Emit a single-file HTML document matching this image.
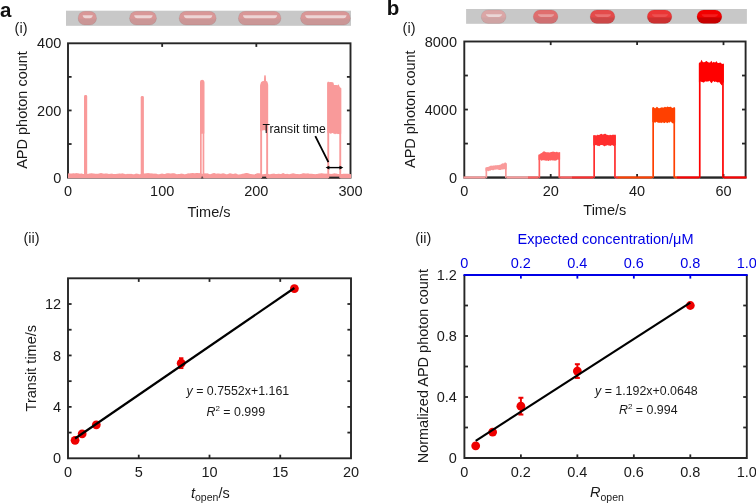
<!DOCTYPE html>
<html><head><meta charset="utf-8"><style>
html,body{margin:0;padding:0;background:#fff;width:756px;height:504px;overflow:hidden}
svg{display:block;will-change:transform}
text{font-family:"Liberation Sans", sans-serif}
</style></head><body>
<svg width="756" height="504" viewBox="0 0 756 504">
<text x="0.00" y="17.00" font-size="20.5" text-anchor="start" fill="#111" font-weight="bold"  >a</text>
<text x="386.80" y="15.20" font-size="20.5" text-anchor="start" fill="#111" font-weight="bold"  >b</text>
<text x="14.60" y="32.80" font-size="14.5" text-anchor="start" fill="#1a1a1a" font-weight="normal"  >(i)</text>
<text x="402.60" y="32.80" font-size="14.5" text-anchor="start" fill="#1a1a1a" font-weight="normal"  >(i)</text>
<text x="23.50" y="242.90" font-size="14.5" text-anchor="start" fill="#1a1a1a" font-weight="normal"  >(ii)</text>
<text x="415.20" y="242.90" font-size="14.5" text-anchor="start" fill="#1a1a1a" font-weight="normal"  >(ii)</text>
<defs><linearGradient id="hl" x1="0" y1="0" x2="0" y2="1"><stop offset="0" stop-color="#fff" stop-opacity="0.95"/><stop offset="1" stop-color="#fff" stop-opacity="0.2"/></linearGradient></defs>
<rect x="66" y="10.7" width="285" height="15.1" fill="#c8c8c8"/>
<linearGradient id="pg1" x1="0" y1="0" x2="0" y2="1"><stop offset="0" stop-color="#d99797"/><stop offset="0.5" stop-color="#d99797"/><stop offset="0.62" stop-color="#ca9696"/><stop offset="1" stop-color="#ca9696"/></linearGradient>
<rect x="78.00" y="11.30" width="18.60" height="13.70" rx="6.85" fill="url(#pg1)" stroke="#000" stroke-opacity="0.08" stroke-width="0.8"/>
<path d="M82.60,15.20 L92.80,15.20 Q92.20,18.20 89.80,18.20 L85.60,18.20 Q83.20,18.20 82.60,15.20 Z" fill="#eedcdc" fill-opacity="0.9"/>
<linearGradient id="pg2" x1="0" y1="0" x2="0" y2="1"><stop offset="0" stop-color="#d99797"/><stop offset="0.5" stop-color="#d99797"/><stop offset="0.62" stop-color="#ca9696"/><stop offset="1" stop-color="#ca9696"/></linearGradient>
<rect x="129.50" y="11.30" width="27.00" height="13.70" rx="6.85" fill="url(#pg2)" stroke="#000" stroke-opacity="0.08" stroke-width="0.8"/>
<path d="M134.10,15.20 L152.70,15.20 Q152.10,18.20 149.70,18.20 L137.10,18.20 Q134.70,18.20 134.10,15.20 Z" fill="#eedcdc" fill-opacity="0.9"/>
<linearGradient id="pg3" x1="0" y1="0" x2="0" y2="1"><stop offset="0" stop-color="#d99797"/><stop offset="0.5" stop-color="#d99797"/><stop offset="0.62" stop-color="#ca9696"/><stop offset="1" stop-color="#ca9696"/></linearGradient>
<rect x="179.10" y="11.30" width="37.10" height="13.70" rx="6.85" fill="url(#pg3)" stroke="#000" stroke-opacity="0.08" stroke-width="0.8"/>
<path d="M183.70,15.20 L212.40,15.20 Q211.80,18.20 209.40,18.20 L186.70,18.20 Q184.30,18.20 183.70,15.20 Z" fill="#eedcdc" fill-opacity="0.9"/>
<linearGradient id="pg4" x1="0" y1="0" x2="0" y2="1"><stop offset="0" stop-color="#d99797"/><stop offset="0.5" stop-color="#d99797"/><stop offset="0.62" stop-color="#ca9696"/><stop offset="1" stop-color="#ca9696"/></linearGradient>
<rect x="238.30" y="11.30" width="42.70" height="13.70" rx="6.85" fill="url(#pg4)" stroke="#000" stroke-opacity="0.08" stroke-width="0.8"/>
<path d="M242.90,15.20 L277.20,15.20 Q276.60,18.20 274.20,18.20 L245.90,18.20 Q243.50,18.20 242.90,15.20 Z" fill="#eedcdc" fill-opacity="0.9"/>
<linearGradient id="pg5" x1="0" y1="0" x2="0" y2="1"><stop offset="0" stop-color="#d99797"/><stop offset="0.5" stop-color="#d99797"/><stop offset="0.62" stop-color="#ca9696"/><stop offset="1" stop-color="#ca9696"/></linearGradient>
<rect x="300.50" y="11.30" width="49.90" height="13.70" rx="6.85" fill="url(#pg5)" stroke="#000" stroke-opacity="0.08" stroke-width="0.8"/>
<path d="M305.10,15.20 L346.60,15.20 Q346.00,18.20 343.60,18.20 L308.10,18.20 Q305.70,18.20 305.10,15.20 Z" fill="#eedcdc" fill-opacity="0.9"/>
<rect x="466.1" y="9" width="280.8" height="14.8" fill="#c8c8c8"/>
<linearGradient id="pg6" x1="0" y1="0" x2="0" y2="1"><stop offset="0" stop-color="#dba6a6"/><stop offset="0.5" stop-color="#dba6a6"/><stop offset="0.62" stop-color="#cfa4a4"/><stop offset="1" stop-color="#cfa4a4"/></linearGradient>
<rect x="481.20" y="9.90" width="24.80" height="13.50" rx="6.75" fill="url(#pg6)" stroke="#000" stroke-opacity="0.08" stroke-width="0.8"/>
<path d="M485.80,14.30 L502.20,14.30 Q501.60,17.00 499.20,17.00 L488.80,17.00 Q486.40,17.00 485.80,14.30 Z" fill="#ecdede" fill-opacity="0.85"/>
<linearGradient id="pg7" x1="0" y1="0" x2="0" y2="1"><stop offset="0" stop-color="#e06e6e"/><stop offset="0.5" stop-color="#e06e6e"/><stop offset="0.62" stop-color="#cf7072"/><stop offset="1" stop-color="#cf7072"/></linearGradient>
<rect x="533.20" y="9.90" width="24.80" height="13.50" rx="6.75" fill="url(#pg7)" stroke="#000" stroke-opacity="0.08" stroke-width="0.8"/>
<path d="M537.80,14.30 L554.20,14.30 Q553.60,17.00 551.20,17.00 L540.80,17.00 Q538.40,17.00 537.80,14.30 Z" fill="#e8a8a8" fill-opacity="0.85"/>
<linearGradient id="pg8" x1="0" y1="0" x2="0" y2="1"><stop offset="0" stop-color="#e44b4b"/><stop offset="0.5" stop-color="#e44b4b"/><stop offset="0.62" stop-color="#cc4848"/><stop offset="1" stop-color="#cc4848"/></linearGradient>
<rect x="590.10" y="9.90" width="24.80" height="13.50" rx="6.75" fill="url(#pg8)" stroke="#000" stroke-opacity="0.08" stroke-width="0.8"/>
<path d="M594.70,14.30 L611.10,14.30 Q610.50,17.00 608.10,17.00 L597.70,17.00 Q595.30,17.00 594.70,14.30 Z" fill="#eb7a7a" fill-opacity="0.8"/>
<linearGradient id="pg9" x1="0" y1="0" x2="0" y2="1"><stop offset="0" stop-color="#eb3636"/><stop offset="0.5" stop-color="#eb3636"/><stop offset="0.62" stop-color="#cc3030"/><stop offset="1" stop-color="#cc3030"/></linearGradient>
<rect x="647.20" y="9.90" width="24.70" height="13.50" rx="6.75" fill="url(#pg9)" stroke="#000" stroke-opacity="0.08" stroke-width="0.8"/>
<path d="M651.80,14.30 L668.10,14.30 Q667.50,17.00 665.10,17.00 L654.80,17.00 Q652.40,17.00 651.80,14.30 Z" fill="#ee5a5a" fill-opacity="0.75"/>
<linearGradient id="pg10" x1="0" y1="0" x2="0" y2="1"><stop offset="0" stop-color="#f20000"/><stop offset="0.5" stop-color="#f20000"/><stop offset="0.62" stop-color="#c80000"/><stop offset="1" stop-color="#c80000"/></linearGradient>
<rect x="696.90" y="9.90" width="25.00" height="13.50" rx="6.75" fill="url(#pg10)" stroke="#000" stroke-opacity="0.08" stroke-width="0.8"/>
<path d="M701.50,14.30 L718.10,14.30 Q717.50,17.00 715.10,17.00 L704.50,17.00 Q702.10,17.00 701.50,14.30 Z" fill="#f52a2a" fill-opacity="0.7"/>
<rect x="68.0" y="43.3" width="282.5" height="134.3" fill="none" stroke="#262626" stroke-width="1.9"/>
<line x1="162.17" y1="43.30" x2="162.17" y2="46.90" stroke="#262626" stroke-width="1.8" stroke-linecap="butt"/>
<line x1="162.17" y1="177.60" x2="162.17" y2="174.00" stroke="#262626" stroke-width="1.8" stroke-linecap="butt"/>
<line x1="256.33" y1="43.30" x2="256.33" y2="46.90" stroke="#262626" stroke-width="1.8" stroke-linecap="butt"/>
<line x1="256.33" y1="177.60" x2="256.33" y2="174.00" stroke="#262626" stroke-width="1.8" stroke-linecap="butt"/>
<line x1="68.00" y1="144.02" x2="71.60" y2="144.02" stroke="#262626" stroke-width="1.8" stroke-linecap="butt"/>
<line x1="350.50" y1="144.02" x2="346.90" y2="144.02" stroke="#262626" stroke-width="1.8" stroke-linecap="butt"/>
<line x1="68.00" y1="110.45" x2="71.60" y2="110.45" stroke="#262626" stroke-width="1.8" stroke-linecap="butt"/>
<line x1="350.50" y1="110.45" x2="346.90" y2="110.45" stroke="#262626" stroke-width="1.8" stroke-linecap="butt"/>
<line x1="68.00" y1="76.88" x2="71.60" y2="76.88" stroke="#262626" stroke-width="1.8" stroke-linecap="butt"/>
<line x1="350.50" y1="76.88" x2="346.90" y2="76.88" stroke="#262626" stroke-width="1.8" stroke-linecap="butt"/>
<text x="68.00" y="196.00" font-size="14.5" text-anchor="middle" fill="#1a1a1a" font-weight="normal"  >0</text>
<text x="162.17" y="196.00" font-size="14.5" text-anchor="middle" fill="#1a1a1a" font-weight="normal"  >100</text>
<text x="256.33" y="196.00" font-size="14.5" text-anchor="middle" fill="#1a1a1a" font-weight="normal"  >200</text>
<text x="350.50" y="196.00" font-size="14.5" text-anchor="middle" fill="#1a1a1a" font-weight="normal"  >300</text>
<text x="61.30" y="182.70" font-size="14.5" text-anchor="end" fill="#1a1a1a" font-weight="normal"  >0</text>
<text x="61.30" y="115.55" font-size="14.5" text-anchor="end" fill="#1a1a1a" font-weight="normal"  >200</text>
<text x="61.30" y="48.40" font-size="14.5" text-anchor="end" fill="#1a1a1a" font-weight="normal"  >400</text>
<text x="209.00" y="217.30" font-size="14.5" text-anchor="middle" fill="#1a1a1a" font-weight="normal"  >Time/s</text>
<text transform="translate(27.0,110) rotate(-90)" font-size="14.5" text-anchor="middle" fill="#1a1a1a">APD photon count</text>
<polygon points="68.00,173.48 69.00,173.32 70.00,173.56 71.00,173.38 72.00,173.38 73.00,173.36 74.00,173.16 75.00,173.39 76.00,173.12 77.00,173.16 78.00,173.15 79.00,173.61 80.00,173.63 81.00,173.50 82.00,173.38 83.01,173.88 84.01,174.09 85.01,173.95 86.01,173.97 87.01,173.65 88.01,173.93 89.01,173.52 90.01,173.58 91.01,173.13 92.01,173.14 93.01,173.55 94.01,173.58 95.01,173.75 96.01,173.64 97.01,173.76 98.01,173.74 99.01,173.39 100.01,173.20 101.01,173.00 102.01,173.37 103.01,173.59 104.01,173.65 105.01,173.60 106.01,173.61 107.01,173.60 108.01,173.73 109.01,173.88 110.01,173.84 111.02,173.71 112.02,173.61 113.02,173.98 114.02,174.08 115.02,173.94 116.02,174.00 117.02,173.63 118.02,173.71 119.02,173.58 120.02,173.60 121.02,173.64 122.02,173.21 123.02,173.52 124.02,173.68 125.02,174.00 126.02,174.13 127.02,173.86 128.02,173.93 129.02,173.76 130.02,173.92 131.02,173.78 132.02,173.93 133.02,174.14 134.02,174.16 135.02,174.05 136.02,173.52 137.02,173.66 138.02,173.65 139.03,174.21 140.03,174.28 141.03,174.06 142.03,173.70 143.03,173.60 144.03,173.45 145.03,173.49 146.03,173.19 147.03,173.25 148.03,173.01 149.03,173.37 150.03,173.37 151.03,173.49 152.03,173.26 153.03,173.71 154.03,173.61 155.03,173.64 156.03,173.45 157.03,173.93 158.03,174.15 159.03,174.34 160.03,173.98 161.03,173.73 162.03,173.43 163.03,173.79 164.03,174.12 165.03,174.00 166.03,173.57 167.03,173.14 168.04,173.18 169.04,173.37 170.04,173.58 171.04,173.60 172.04,173.31 173.04,173.21 174.04,173.28 175.04,173.61 176.04,173.93 177.04,174.13 178.04,174.10 179.04,173.89 180.04,173.89 181.04,173.61 182.04,173.78 183.04,173.84 184.04,174.33 185.04,174.27 186.04,174.04 187.04,173.75 188.04,173.34 189.04,173.48 190.04,173.28 191.04,173.26 192.04,173.00 193.04,173.06 194.04,173.23 195.04,173.13 196.05,173.04 197.05,172.92 198.05,172.95 199.05,173.17 200.05,173.09 201.05,173.56 202.05,173.71 203.05,173.78 204.05,173.41 205.05,173.25 206.05,173.38 207.05,173.30 208.05,173.60 209.05,173.98 210.05,174.18 211.05,173.97 212.05,173.42 213.05,173.20 214.05,173.12 215.05,173.23 216.05,173.66 217.05,173.55 218.05,173.41 219.05,173.48 220.05,173.70 221.05,173.78 222.05,173.53 223.05,173.23 224.06,173.46 225.06,173.72 226.06,174.22 227.06,174.32 228.06,173.89 229.06,173.59 230.06,173.28 231.06,173.58 232.06,173.68 233.06,174.05 234.06,173.78 235.06,173.60 236.06,173.62 237.06,174.01 238.06,174.39 239.06,174.39 240.06,174.29 241.06,174.22 242.06,173.87 243.06,173.69 244.06,173.46 245.06,173.34 246.06,173.05 247.06,173.00 248.06,173.14 249.06,173.54 250.06,173.94 251.06,174.06 252.07,174.20 253.07,174.22 254.07,174.53 255.07,174.18 256.07,173.72 257.07,173.29 258.07,173.19 259.07,173.18 260.07,173.42 261.07,173.84 262.07,174.22 263.07,174.13 264.07,173.98 265.07,173.96 266.07,173.72 267.07,173.73 268.07,173.79 269.07,174.21 270.07,174.27 271.07,174.01 272.07,173.64 273.07,173.67 274.07,173.58 275.07,173.95 276.07,174.06 277.07,174.10 278.07,173.86 279.07,173.85 280.07,174.04 281.08,173.90 282.08,173.41 283.08,173.07 284.08,173.51 285.08,173.92 286.08,173.91 287.08,173.87 288.08,173.97 289.08,174.28 290.08,173.99 291.08,173.73 292.08,173.42 293.08,173.22 294.08,173.47 295.08,173.78 296.08,174.09 297.08,174.07 298.08,173.94 299.08,174.14 300.08,174.08 301.08,173.95 302.08,173.57 303.08,173.25 304.08,173.27 305.08,173.47 306.08,173.45 307.08,173.56 308.08,173.29 309.09,173.68 310.09,173.64 311.09,173.83 312.09,173.64 313.09,173.97 314.09,173.94 315.09,174.15 316.09,173.90 317.09,173.97 318.09,173.73 319.09,173.44 320.09,173.39 321.09,173.19 322.09,173.18 323.09,173.39 324.09,173.39 325.09,173.67 326.09,173.62 327.09,173.85 328.09,173.76 329.09,173.64 330.09,173.64 331.09,173.91 332.09,173.67 333.09,173.67 334.09,173.35 335.09,173.45 336.09,173.58 337.10,173.73 338.10,173.91 339.10,173.90 340.10,174.14 341.10,174.07 342.10,173.98 343.10,173.74 344.10,173.78 345.10,173.83 346.10,173.79 347.10,173.81 348.10,173.68 349.10,173.97 350.10,174.07 351.10,174.31 351.1,178.3 68.0,178.3" fill="#f99a9a"/>
<rect x="84.00" y="95.00" width="3.20" height="82.00" rx="1.4" fill="#f99a9a"/>
<rect x="140.70" y="96.00" width="3.20" height="81.00" rx="1.4" fill="#f99a9a"/>
<line x1="200.85" y1="177.40" x2="203.45" y2="177.40" stroke="#262626" stroke-width="1.9" stroke-linecap="butt"/>
<rect x="200.00" y="82.10" width="1.7" height="95.70" fill="#f99a9a"/>
<rect x="202.60" y="82.10" width="1.7" height="95.70" fill="#f99a9a"/>
<polygon points="200.00,81.50 200.60,80.20 202.20,79.80 203.70,80.20 204.30,81.50 204.30,133.60 200.00,134.00" fill="#f99a9a"/>
<line x1="261.15" y1="177.60" x2="267.15" y2="177.60" stroke="#262626" stroke-width="1.9" stroke-linecap="butt"/>
<rect x="260.20" y="85.30" width="1.9" height="92.70" fill="#f99a9a"/>
<rect x="266.20" y="84.80" width="1.9" height="93.20" fill="#f99a9a"/>
<polygon points="260.20,84.70 261.00,82.30 262.20,81.20 263.90,81.00 264.20,75.80 265.00,75.10 265.80,75.80 266.10,81.00 267.30,81.60 268.10,84.20 268.10,130.41 267.57,130.46 267.05,130.67 266.52,130.76 265.99,131.17 265.47,130.62 264.94,130.27 264.41,129.88 263.89,130.18 263.36,130.14 262.83,130.22 262.31,130.55 261.78,131.18 261.25,131.53 260.73,131.15 260.20,131.19" fill="#f99a9a"/>
<line x1="328.25" y1="177.60" x2="340.25" y2="177.60" stroke="#262626" stroke-width="1.9" stroke-linecap="butt"/>
<rect x="327.30" y="82.97" width="1.9" height="95.03" fill="#f99a9a"/>
<rect x="339.30" y="88.48" width="1.9" height="89.52" fill="#f99a9a"/>
<polygon points="327.30,82.37 327.81,81.79 328.33,81.70 328.84,81.85 329.36,81.94 329.87,82.14 330.39,82.11 330.90,82.02 331.42,82.00 331.93,82.13 332.45,82.13 332.96,82.14 333.48,82.83 333.99,84.88 334.51,84.99 335.02,84.95 335.54,84.99 336.05,84.96 336.57,85.06 337.08,85.25 337.60,85.21 338.11,84.49 338.63,84.44 339.14,85.48 339.66,86.87 340.17,87.64 340.69,87.51 341.20,87.88 341.20,133.69 340.69,133.68 340.17,133.98 339.66,134.30 339.14,134.32 338.63,133.89 338.11,134.11 337.60,133.84 337.08,134.14 336.57,133.45 336.05,134.03 335.54,133.81 335.02,134.49 334.51,133.84 333.99,133.63 333.48,133.38 332.96,133.33 332.45,133.01 331.93,132.99 331.42,133.38 330.90,134.04 330.39,133.54 329.87,133.24 329.36,133.12 328.84,133.72 328.33,133.82 327.81,133.21 327.30,132.63" fill="#f99a9a"/>
<text x="262.50" y="132.60" font-size="12.2" text-anchor="start" fill="#111" font-weight="normal"  >Transit time</text>
<line x1="315.30" y1="136.20" x2="328.40" y2="162.20" stroke="#000" stroke-width="1.8" stroke-linecap="butt"/>
<line x1="327.00" y1="167.60" x2="342.00" y2="167.60" stroke="#000" stroke-width="1.4" stroke-linecap="butt"/>
<path d="M325.6,167.6 L329.4,165.7 L329.4,169.5 Z" fill="#000"/>
<path d="M343.3,167.6 L339.5,165.7 L339.5,169.5 Z" fill="#000"/>
<rect x="464.3" y="41.5" width="281.3" height="136.1" fill="none" stroke="#262626" stroke-width="1.9"/>
<line x1="550.70" y1="41.50" x2="550.70" y2="45.10" stroke="#262626" stroke-width="1.8" stroke-linecap="butt"/>
<line x1="550.70" y1="177.60" x2="550.70" y2="174.00" stroke="#262626" stroke-width="1.8" stroke-linecap="butt"/>
<line x1="637.10" y1="41.50" x2="637.10" y2="45.10" stroke="#262626" stroke-width="1.8" stroke-linecap="butt"/>
<line x1="637.10" y1="177.60" x2="637.10" y2="174.00" stroke="#262626" stroke-width="1.8" stroke-linecap="butt"/>
<line x1="723.50" y1="41.50" x2="723.50" y2="45.10" stroke="#262626" stroke-width="1.8" stroke-linecap="butt"/>
<line x1="723.50" y1="177.60" x2="723.50" y2="174.00" stroke="#262626" stroke-width="1.8" stroke-linecap="butt"/>
<line x1="464.30" y1="143.57" x2="467.90" y2="143.57" stroke="#262626" stroke-width="1.8" stroke-linecap="butt"/>
<line x1="745.60" y1="143.57" x2="742.00" y2="143.57" stroke="#262626" stroke-width="1.8" stroke-linecap="butt"/>
<line x1="464.30" y1="109.55" x2="467.90" y2="109.55" stroke="#262626" stroke-width="1.8" stroke-linecap="butt"/>
<line x1="745.60" y1="109.55" x2="742.00" y2="109.55" stroke="#262626" stroke-width="1.8" stroke-linecap="butt"/>
<line x1="464.30" y1="75.52" x2="467.90" y2="75.52" stroke="#262626" stroke-width="1.8" stroke-linecap="butt"/>
<line x1="745.60" y1="75.52" x2="742.00" y2="75.52" stroke="#262626" stroke-width="1.8" stroke-linecap="butt"/>
<text x="464.30" y="195.80" font-size="14.5" text-anchor="middle" fill="#1a1a1a" font-weight="normal"  >0</text>
<text x="550.70" y="195.80" font-size="14.5" text-anchor="middle" fill="#1a1a1a" font-weight="normal"  >20</text>
<text x="637.10" y="195.80" font-size="14.5" text-anchor="middle" fill="#1a1a1a" font-weight="normal"  >40</text>
<text x="723.50" y="195.80" font-size="14.5" text-anchor="middle" fill="#1a1a1a" font-weight="normal"  >60</text>
<text x="457.00" y="182.70" font-size="14.5" text-anchor="end" fill="#1a1a1a" font-weight="normal"  >0</text>
<text x="457.00" y="114.65" font-size="14.5" text-anchor="end" fill="#1a1a1a" font-weight="normal"  >4000</text>
<text x="457.00" y="46.60" font-size="14.5" text-anchor="end" fill="#1a1a1a" font-weight="normal"  >8000</text>
<text x="604.80" y="215.30" font-size="14.5" text-anchor="middle" fill="#1a1a1a" font-weight="normal"  >Time/s</text>
<text transform="translate(414.8,109.2) rotate(-90)" font-size="14.5" text-anchor="middle" fill="#1a1a1a">APD photon count</text>
<rect x="463.40" y="176.4" width="22.10" height="2.1" fill="#f99a9a"/>
<rect x="506.70" y="176.4" width="21.30" height="2.1" fill="#f99a9a"/>
<rect x="528.00" y="176.4" width="10.50" height="2.1" fill="#ff5f5f"/>
<rect x="560.10" y="176.4" width="11.90" height="2.1" fill="#ff5f5f"/>
<rect x="572.00" y="176.4" width="21.30" height="2.1" fill="#ff2d2d"/>
<rect x="615.80" y="176.4" width="2.20" height="2.1" fill="#ff2d2d"/>
<rect x="618.00" y="176.4" width="34.30" height="2.1" fill="#ff4000"/>
<rect x="675.10" y="176.4" width="1.90" height="2.1" fill="#ff4000"/>
<rect x="677.00" y="176.4" width="21.90" height="2.1" fill="#ff0000"/>
<rect x="723.80" y="176.4" width="22.70" height="2.1" fill="#ff0000"/>
<line x1="486.35" y1="177.50" x2="505.85" y2="177.50" stroke="#262626" stroke-width="1.9" stroke-linecap="butt"/>
<rect x="485.50" y="168.10" width="1.7" height="9.80" fill="#f99a9a"/>
<rect x="505.00" y="163.74" width="1.7" height="14.16" fill="#f99a9a"/>
<polygon points="485.50,167.50 486.00,167.31 486.51,167.14 487.01,167.01 487.52,167.09 488.02,166.93 488.53,166.86 489.03,166.47 489.54,166.34 490.04,165.99 490.55,165.86 491.05,165.57 491.56,165.72 492.06,165.71 492.57,165.70 493.07,165.52 493.58,165.61 494.08,165.49 494.59,165.56 495.09,165.28 495.60,165.36 496.10,165.29 496.60,165.20 497.11,165.13 497.61,164.99 498.12,165.17 498.62,165.02 499.13,165.01 499.63,164.82 500.14,164.84 500.64,164.51 501.15,164.21 501.65,163.81 502.16,163.55 502.66,163.28 503.17,163.42 503.67,163.32 504.18,163.14 504.68,162.53 505.19,162.44 505.69,162.62 506.20,163.12 506.70,163.14 506.70,169.36 506.20,169.46 505.69,169.57 505.19,169.30 504.68,169.22 504.18,169.21 503.67,169.32 503.17,169.56 502.66,169.39 502.16,169.57 501.65,169.57 501.15,169.83 500.64,170.03 500.14,170.01 499.63,169.96 499.13,169.97 498.62,169.75 498.12,169.68 497.61,169.42 497.11,169.37 496.60,169.48 496.10,169.56 495.60,169.74 495.09,169.57 494.59,169.84 494.08,169.85 493.58,170.16 493.07,170.19 492.57,170.33 492.06,170.10 491.56,170.08 491.05,170.08 490.55,170.65 490.04,170.63 489.54,170.80 489.03,170.85 488.53,171.27 488.02,171.16 487.52,170.92 487.01,170.53 486.51,170.68 486.00,170.64 485.50,170.73" fill="#f99a9a"/>
<line x1="539.35" y1="177.50" x2="559.25" y2="177.50" stroke="#262626" stroke-width="1.9" stroke-linecap="butt"/>
<rect x="538.50" y="155.14" width="1.7" height="22.76" fill="#ff5f5f"/>
<rect x="558.40" y="152.71" width="1.7" height="25.19" fill="#ff5f5f"/>
<polygon points="538.50,154.54 539.00,154.49 539.50,154.25 540.01,154.02 540.51,153.52 541.01,153.18 541.51,152.95 542.02,152.83 542.52,152.34 543.02,151.86 543.52,151.43 544.03,151.34 544.53,151.43 545.03,151.83 545.53,151.98 546.03,152.29 546.54,152.25 547.04,152.37 547.54,152.37 548.04,152.13 548.55,152.24 549.05,152.42 549.55,152.57 550.05,152.36 550.56,152.24 551.06,151.94 551.56,151.96 552.06,151.69 552.57,151.68 553.07,151.44 553.57,151.66 554.07,151.71 554.57,151.93 555.08,152.04 555.58,152.17 556.08,151.99 556.58,151.74 557.09,151.84 557.59,152.16 558.09,152.35 558.59,152.46 559.10,152.26 559.60,152.17 560.10,152.11 560.10,159.57 559.60,159.66 559.10,159.90 558.59,159.75 558.09,159.52 557.59,159.54 557.09,160.11 556.58,160.26 556.08,160.42 555.58,160.44 555.08,160.63 554.57,160.73 554.07,160.30 553.57,160.60 553.07,160.45 552.57,160.48 552.06,160.28 551.56,160.12 551.06,160.63 550.56,160.44 550.05,160.50 549.55,160.23 549.05,160.71 548.55,161.03 548.04,161.01 547.54,160.42 547.04,160.47 546.54,160.77 546.03,160.86 545.53,160.81 545.03,160.28 544.53,160.42 544.03,160.14 543.52,160.36 543.02,160.24 542.52,160.34 542.02,160.43 541.51,160.64 541.01,160.38 540.51,159.98 540.01,159.56 539.50,159.72 539.00,159.85 538.50,160.27" fill="#ff5f5f"/>
<line x1="594.15" y1="177.50" x2="614.95" y2="177.50" stroke="#262626" stroke-width="1.9" stroke-linecap="butt"/>
<rect x="593.30" y="135.59" width="1.7" height="42.31" fill="#ff2d2d"/>
<rect x="614.10" y="135.43" width="1.7" height="42.47" fill="#ff2d2d"/>
<polygon points="593.30,134.99 593.80,135.21 594.30,135.17 594.80,135.19 595.30,135.25 595.80,135.13 596.30,135.56 596.80,135.13 597.30,134.88 597.80,134.53 598.30,134.91 598.80,135.00 599.30,134.93 599.80,134.54 600.30,134.31 600.80,134.07 601.30,133.83 601.80,134.11 602.30,134.20 602.80,134.65 603.30,134.25 603.80,134.19 604.30,133.89 604.80,133.80 605.30,133.81 605.80,134.03 606.30,134.50 606.80,134.87 607.30,134.79 607.80,134.92 608.30,135.11 608.80,135.17 609.30,135.17 609.80,134.75 610.30,134.90 610.80,134.74 611.30,135.16 611.80,135.11 612.30,135.01 612.80,134.59 613.30,134.76 613.80,134.66 614.30,134.92 614.80,134.57 615.30,134.67 615.80,134.83 615.80,144.97 615.30,145.10 614.80,145.70 614.30,146.38 613.80,146.09 613.30,145.78 612.80,145.28 612.30,145.17 611.80,145.05 611.30,145.51 610.80,145.78 610.30,146.00 609.80,145.48 609.30,145.74 608.80,145.59 608.30,145.55 607.80,145.11 607.30,145.20 606.80,145.54 606.30,145.61 605.80,145.65 605.30,145.82 604.80,146.18 604.30,146.30 603.80,145.95 603.30,145.47 602.80,145.11 602.30,145.16 601.80,145.04 601.30,145.09 600.80,144.93 600.30,145.18 599.80,145.74 599.30,146.28 598.80,146.10 598.30,145.73 597.80,145.71 597.30,145.69 596.80,145.44 596.30,144.89 595.80,145.01 595.30,145.28 594.80,145.36 594.30,145.54 593.80,145.31 593.30,145.78" fill="#ff2d2d"/>
<line x1="653.15" y1="177.50" x2="674.25" y2="177.50" stroke="#262626" stroke-width="1.9" stroke-linecap="butt"/>
<rect x="652.30" y="108.23" width="1.7" height="69.67" fill="#ff4000"/>
<rect x="673.40" y="108.30" width="1.7" height="69.60" fill="#ff4000"/>
<polygon points="652.30,107.63 652.81,107.00 653.31,106.96 653.82,107.23 654.33,107.84 654.83,108.20 655.34,108.25 655.85,107.85 656.35,107.34 656.86,106.77 657.37,106.98 657.87,107.42 658.38,108.00 658.89,108.17 659.39,108.16 659.90,108.05 660.41,107.84 660.91,107.74 661.42,107.19 661.93,107.39 662.43,107.13 662.94,107.73 663.45,107.60 663.95,107.62 664.46,107.02 664.97,106.70 665.47,106.91 665.98,107.29 666.49,107.16 666.99,106.72 667.50,106.56 668.01,106.87 668.51,107.12 669.02,106.92 669.53,106.96 670.03,106.71 670.54,106.78 671.05,106.71 671.55,107.41 672.06,107.68 672.57,108.00 673.07,107.68 673.58,107.40 674.09,106.97 674.59,107.34 675.10,107.70 675.10,122.36 674.59,122.37 674.09,123.07 673.58,123.43 673.07,123.41 672.57,123.34 672.06,123.08 671.55,122.40 671.05,121.71 670.54,121.52 670.03,122.30 669.53,122.46 669.02,122.69 668.51,122.01 668.01,122.65 667.50,122.89 666.99,123.14 666.49,122.55 665.98,122.16 665.47,122.25 664.97,122.88 664.46,122.99 663.95,123.22 663.45,122.59 662.94,122.52 662.43,122.56 661.93,122.61 661.42,123.22 660.91,122.68 660.41,122.83 659.90,122.62 659.39,123.10 658.89,122.82 658.38,122.76 657.87,122.42 657.37,122.52 656.86,121.96 656.35,121.78 655.85,122.26 655.34,122.77 654.83,122.78 654.33,122.34 653.82,122.33 653.31,122.51 652.81,122.16 652.30,121.84" fill="#ff4000"/>
<line x1="699.75" y1="177.50" x2="722.95" y2="177.50" stroke="#262626" stroke-width="1.9" stroke-linecap="butt"/>
<rect x="698.90" y="63.57" width="1.7" height="114.33" fill="#ff0000"/>
<rect x="722.10" y="64.14" width="1.7" height="113.76" fill="#ff0000"/>
<polygon points="698.90,62.97 699.41,62.55 699.92,62.57 700.42,62.18 700.93,61.07 701.44,59.73 701.95,60.47 702.46,61.59 702.97,62.21 703.47,62.08 703.98,62.41 704.49,61.92 705.00,62.02 705.51,61.43 706.01,61.29 706.52,60.89 707.03,61.34 707.54,61.98 708.05,62.00 708.56,62.59 709.06,62.48 709.57,62.53 710.08,62.48 710.59,61.77 711.10,61.19 711.60,60.84 712.11,62.20 712.62,62.66 713.13,62.16 713.64,61.69 714.14,62.18 714.65,62.27 715.16,62.50 715.67,62.02 716.18,61.59 716.69,61.34 717.19,62.29 717.70,63.02 718.21,63.04 718.72,62.93 719.23,62.78 719.73,62.81 720.24,62.41 720.75,62.71 721.26,63.20 721.77,63.76 722.28,64.05 722.78,63.70 723.29,63.64 723.80,63.54 723.80,82.29 723.29,82.61 722.78,83.59 722.28,84.99 721.77,85.32 721.26,85.01 720.75,83.91 720.24,83.67 719.73,82.56 719.23,82.23 718.72,81.94 718.21,82.55 717.70,82.58 717.19,82.37 716.69,82.07 716.18,81.66 715.67,81.51 715.16,81.80 714.65,82.07 714.14,81.75 713.64,81.17 713.13,80.96 712.62,81.83 712.11,82.61 711.60,83.29 711.10,82.63 710.59,82.30 710.08,81.38 709.57,81.11 709.06,80.80 708.56,81.48 708.05,81.59 707.54,81.41 707.03,81.42 706.52,81.57 706.01,81.78 705.51,81.33 705.00,81.55 704.49,81.97 703.98,82.43 703.47,82.54 702.97,82.55 702.46,81.92 701.95,82.09 701.44,81.78 700.93,82.00 700.42,81.33 699.92,81.22 699.41,81.70 698.90,82.37" fill="#ff0000"/>
<rect x="68.0" y="278.3" width="283.0" height="180.0" fill="none" stroke="#262626" stroke-width="1.9"/>
<line x1="138.75" y1="278.30" x2="138.75" y2="281.90" stroke="#262626" stroke-width="1.8" stroke-linecap="butt"/>
<line x1="138.75" y1="458.30" x2="138.75" y2="454.70" stroke="#262626" stroke-width="1.8" stroke-linecap="butt"/>
<line x1="209.50" y1="278.30" x2="209.50" y2="281.90" stroke="#262626" stroke-width="1.8" stroke-linecap="butt"/>
<line x1="209.50" y1="458.30" x2="209.50" y2="454.70" stroke="#262626" stroke-width="1.8" stroke-linecap="butt"/>
<line x1="280.25" y1="278.30" x2="280.25" y2="281.90" stroke="#262626" stroke-width="1.8" stroke-linecap="butt"/>
<line x1="280.25" y1="458.30" x2="280.25" y2="454.70" stroke="#262626" stroke-width="1.8" stroke-linecap="butt"/>
<line x1="68.00" y1="432.59" x2="71.60" y2="432.59" stroke="#262626" stroke-width="1.8" stroke-linecap="butt"/>
<line x1="351.00" y1="432.59" x2="347.40" y2="432.59" stroke="#262626" stroke-width="1.8" stroke-linecap="butt"/>
<line x1="68.00" y1="406.87" x2="71.60" y2="406.87" stroke="#262626" stroke-width="1.8" stroke-linecap="butt"/>
<line x1="351.00" y1="406.87" x2="347.40" y2="406.87" stroke="#262626" stroke-width="1.8" stroke-linecap="butt"/>
<line x1="68.00" y1="381.16" x2="71.60" y2="381.16" stroke="#262626" stroke-width="1.8" stroke-linecap="butt"/>
<line x1="351.00" y1="381.16" x2="347.40" y2="381.16" stroke="#262626" stroke-width="1.8" stroke-linecap="butt"/>
<line x1="68.00" y1="355.44" x2="71.60" y2="355.44" stroke="#262626" stroke-width="1.8" stroke-linecap="butt"/>
<line x1="351.00" y1="355.44" x2="347.40" y2="355.44" stroke="#262626" stroke-width="1.8" stroke-linecap="butt"/>
<line x1="68.00" y1="329.73" x2="71.60" y2="329.73" stroke="#262626" stroke-width="1.8" stroke-linecap="butt"/>
<line x1="351.00" y1="329.73" x2="347.40" y2="329.73" stroke="#262626" stroke-width="1.8" stroke-linecap="butt"/>
<line x1="68.00" y1="304.01" x2="71.60" y2="304.01" stroke="#262626" stroke-width="1.8" stroke-linecap="butt"/>
<line x1="351.00" y1="304.01" x2="347.40" y2="304.01" stroke="#262626" stroke-width="1.8" stroke-linecap="butt"/>
<text x="68.00" y="476.50" font-size="14.5" text-anchor="middle" fill="#1a1a1a" font-weight="normal"  >0</text>
<text x="138.75" y="476.50" font-size="14.5" text-anchor="middle" fill="#1a1a1a" font-weight="normal"  >5</text>
<text x="209.50" y="476.50" font-size="14.5" text-anchor="middle" fill="#1a1a1a" font-weight="normal"  >10</text>
<text x="280.25" y="476.50" font-size="14.5" text-anchor="middle" fill="#1a1a1a" font-weight="normal"  >15</text>
<text x="351.00" y="476.50" font-size="14.5" text-anchor="middle" fill="#1a1a1a" font-weight="normal"  >20</text>
<text x="61.20" y="463.40" font-size="14.5" text-anchor="end" fill="#1a1a1a" font-weight="normal"  >0</text>
<text x="61.20" y="411.97" font-size="14.5" text-anchor="end" fill="#1a1a1a" font-weight="normal"  >4</text>
<text x="61.20" y="360.54" font-size="14.5" text-anchor="end" fill="#1a1a1a" font-weight="normal"  >8</text>
<text x="61.20" y="309.11" font-size="14.5" text-anchor="end" fill="#1a1a1a" font-weight="normal"  >12</text>
<text transform="translate(35.8,368.2) rotate(-90)" font-size="14.5" text-anchor="middle" fill="#1a1a1a">Transit time/s</text>
<text x="191" y="497.6" font-size="14.5" fill="#1a1a1a"><tspan font-style="italic">t</tspan><tspan font-size="10.5" dy="3.3">open</tspan><tspan dy="-3.3">/s</tspan></text>
<circle cx="75.08" cy="440.30" r="4.4" fill="#ee0000"/>
<circle cx="82.15" cy="433.87" r="4.4" fill="#ee0000"/>
<circle cx="96.30" cy="424.87" r="4.4" fill="#ee0000"/>
<line x1="181.20" y1="358.27" x2="181.20" y2="368.04" stroke="#ee0000" stroke-width="2.0" stroke-linecap="butt"/>
<line x1="179.00" y1="358.27" x2="183.40" y2="358.27" stroke="#ee0000" stroke-width="2.0" stroke-linecap="butt"/>
<line x1="179.00" y1="368.04" x2="183.40" y2="368.04" stroke="#ee0000" stroke-width="2.0" stroke-linecap="butt"/>
<circle cx="181.20" cy="363.16" r="4.4" fill="#ee0000"/>
<circle cx="294.40" cy="288.59" r="4.4" fill="#ee0000"/>
<line x1="75.08" y1="438.52" x2="294.40" y2="288.02" stroke="#000" stroke-width="2.2" stroke-linecap="butt"/>
<text x="186.5" y="394.9" font-size="12.4" fill="#1a1a1a"><tspan font-style="italic">y</tspan> = 0.7552x+1.161</text>
<text x="206.5" y="415.9" font-size="12.4" fill="#1a1a1a"><tspan font-style="italic">R</tspan><tspan font-size="8" dy="-5.2">2</tspan><tspan dy="5.2"> = 0.999</tspan></text>
<polyline points="746.8,275.0 746.8,458.0 464.4,458.0 464.4,275.0" fill="none" stroke="#262626" stroke-width="1.9"/>
<line x1="463.50" y1="275.00" x2="747.70" y2="275.00" stroke="#0000e6" stroke-width="2.0" stroke-linecap="butt"/>
<line x1="520.88" y1="275.00" x2="520.88" y2="278.60" stroke="#0000e6" stroke-width="1.8" stroke-linecap="butt"/>
<line x1="520.88" y1="458.00" x2="520.88" y2="454.40" stroke="#262626" stroke-width="1.8" stroke-linecap="butt"/>
<line x1="577.36" y1="275.00" x2="577.36" y2="278.60" stroke="#0000e6" stroke-width="1.8" stroke-linecap="butt"/>
<line x1="577.36" y1="458.00" x2="577.36" y2="454.40" stroke="#262626" stroke-width="1.8" stroke-linecap="butt"/>
<line x1="633.84" y1="275.00" x2="633.84" y2="278.60" stroke="#0000e6" stroke-width="1.8" stroke-linecap="butt"/>
<line x1="633.84" y1="458.00" x2="633.84" y2="454.40" stroke="#262626" stroke-width="1.8" stroke-linecap="butt"/>
<line x1="690.32" y1="275.00" x2="690.32" y2="278.60" stroke="#0000e6" stroke-width="1.8" stroke-linecap="butt"/>
<line x1="690.32" y1="458.00" x2="690.32" y2="454.40" stroke="#262626" stroke-width="1.8" stroke-linecap="butt"/>
<line x1="464.40" y1="427.50" x2="468.00" y2="427.50" stroke="#262626" stroke-width="1.8" stroke-linecap="butt"/>
<line x1="746.80" y1="427.50" x2="743.20" y2="427.50" stroke="#262626" stroke-width="1.8" stroke-linecap="butt"/>
<line x1="464.40" y1="397.00" x2="468.00" y2="397.00" stroke="#262626" stroke-width="1.8" stroke-linecap="butt"/>
<line x1="746.80" y1="397.00" x2="743.20" y2="397.00" stroke="#262626" stroke-width="1.8" stroke-linecap="butt"/>
<line x1="464.40" y1="366.50" x2="468.00" y2="366.50" stroke="#262626" stroke-width="1.8" stroke-linecap="butt"/>
<line x1="746.80" y1="366.50" x2="743.20" y2="366.50" stroke="#262626" stroke-width="1.8" stroke-linecap="butt"/>
<line x1="464.40" y1="336.00" x2="468.00" y2="336.00" stroke="#262626" stroke-width="1.8" stroke-linecap="butt"/>
<line x1="746.80" y1="336.00" x2="743.20" y2="336.00" stroke="#262626" stroke-width="1.8" stroke-linecap="butt"/>
<line x1="464.40" y1="305.50" x2="468.00" y2="305.50" stroke="#262626" stroke-width="1.8" stroke-linecap="butt"/>
<line x1="746.80" y1="305.50" x2="743.20" y2="305.50" stroke="#262626" stroke-width="1.8" stroke-linecap="butt"/>
<text x="464.40" y="476.50" font-size="14.5" text-anchor="middle" fill="#1a1a1a" font-weight="normal"  >0</text>
<text x="464.40" y="267.60" font-size="14.5" text-anchor="middle" fill="#0000e6" font-weight="normal"  >0</text>
<text x="520.88" y="476.50" font-size="14.5" text-anchor="middle" fill="#1a1a1a" font-weight="normal"  >0.2</text>
<text x="520.88" y="267.60" font-size="14.5" text-anchor="middle" fill="#0000e6" font-weight="normal"  >0.2</text>
<text x="577.36" y="476.50" font-size="14.5" text-anchor="middle" fill="#1a1a1a" font-weight="normal"  >0.4</text>
<text x="577.36" y="267.60" font-size="14.5" text-anchor="middle" fill="#0000e6" font-weight="normal"  >0.4</text>
<text x="633.84" y="476.50" font-size="14.5" text-anchor="middle" fill="#1a1a1a" font-weight="normal"  >0.6</text>
<text x="633.84" y="267.60" font-size="14.5" text-anchor="middle" fill="#0000e6" font-weight="normal"  >0.6</text>
<text x="690.32" y="476.50" font-size="14.5" text-anchor="middle" fill="#1a1a1a" font-weight="normal"  >0.8</text>
<text x="690.32" y="267.60" font-size="14.5" text-anchor="middle" fill="#0000e6" font-weight="normal"  >0.8</text>
<text x="746.80" y="476.50" font-size="14.5" text-anchor="middle" fill="#1a1a1a" font-weight="normal"  >1.0</text>
<text x="746.80" y="267.60" font-size="14.5" text-anchor="middle" fill="#0000e6" font-weight="normal"  >1.0</text>
<text x="456.80" y="463.10" font-size="14.5" text-anchor="end" fill="#1a1a1a" font-weight="normal"  >0</text>
<text x="456.80" y="402.10" font-size="14.5" text-anchor="end" fill="#1a1a1a" font-weight="normal"  >0.4</text>
<text x="456.80" y="341.10" font-size="14.5" text-anchor="end" fill="#1a1a1a" font-weight="normal"  >0.8</text>
<text x="456.80" y="280.10" font-size="14.5" text-anchor="end" fill="#1a1a1a" font-weight="normal"  >1.2</text>
<text x="605.50" y="243.60" font-size="14.5" text-anchor="middle" fill="#0000e6" font-weight="normal"  >Expected concentration/μM</text>
<text transform="translate(427.8,366.2) rotate(-90)" font-size="14.5" text-anchor="middle" fill="#1a1a1a">Normalized APD photon count</text>
<text x="590" y="497" font-size="14.5" fill="#1a1a1a"><tspan font-style="italic">R</tspan><tspan font-size="10.5" dy="3.5">open</tspan></text>
<circle cx="475.70" cy="445.80" r="4.4" fill="#ee0000"/>
<circle cx="492.64" cy="432.07" r="4.4" fill="#ee0000"/>
<line x1="520.88" y1="397.76" x2="520.88" y2="414.54" stroke="#ee0000" stroke-width="2.0" stroke-linecap="butt"/>
<line x1="518.38" y1="397.76" x2="523.38" y2="397.76" stroke="#ee0000" stroke-width="2.0" stroke-linecap="butt"/>
<line x1="518.38" y1="414.54" x2="523.38" y2="414.54" stroke="#ee0000" stroke-width="2.0" stroke-linecap="butt"/>
<circle cx="520.88" cy="406.15" r="4.4" fill="#ee0000"/>
<line x1="577.36" y1="364.21" x2="577.36" y2="377.94" stroke="#ee0000" stroke-width="2.0" stroke-linecap="butt"/>
<line x1="574.86" y1="364.21" x2="579.86" y2="364.21" stroke="#ee0000" stroke-width="2.0" stroke-linecap="butt"/>
<line x1="574.86" y1="377.94" x2="579.86" y2="377.94" stroke="#ee0000" stroke-width="2.0" stroke-linecap="butt"/>
<circle cx="577.36" cy="371.07" r="4.4" fill="#ee0000"/>
<circle cx="690.32" cy="305.50" r="4.4" fill="#ee0000"/>
<line x1="475.70" y1="440.85" x2="690.32" y2="302.69" stroke="#000" stroke-width="2.2" stroke-linecap="butt"/>
<text x="595" y="394.9" font-size="12.4" fill="#1a1a1a"><tspan font-style="italic">y</tspan> = 1.192x+0.0648</text>
<text x="619" y="413.7" font-size="12.4" fill="#1a1a1a"><tspan font-style="italic">R</tspan><tspan font-size="8" dy="-5.2">2</tspan><tspan dy="5.2"> = 0.994</tspan></text>
</svg></body></html>
